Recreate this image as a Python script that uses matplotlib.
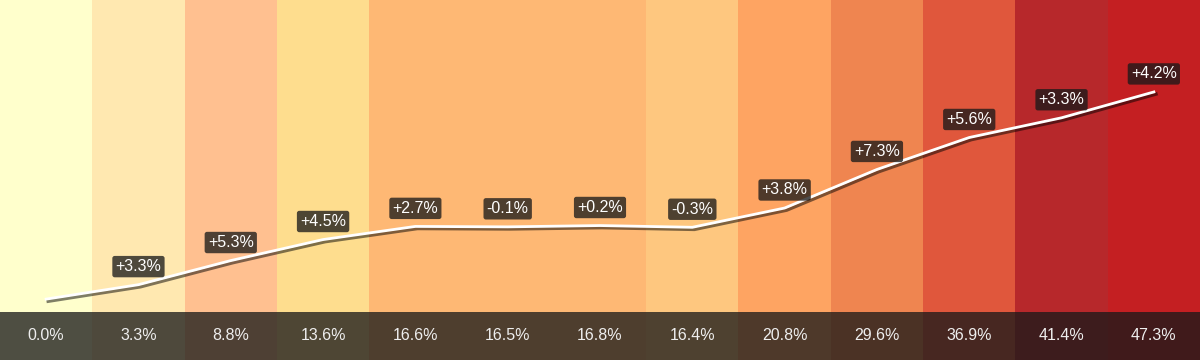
import matplotlib
matplotlib.use("Agg")
import matplotlib.pyplot as plt
import matplotlib.patheffects as pe
from matplotlib.patches import Rectangle

matplotlib.rcParams['font.family'] = ['Liberation Sans', 'DejaVu Sans']

# cumulative growth per period (%)
cumulative = [0.0, 3.3, 8.8, 13.6, 16.6, 16.5, 16.8, 16.4, 20.8, 29.6, 36.9, 41.4, 47.3]
# period-over-period change labels (%)
changes = [None, 3.3, 5.3, 4.5, 2.7, -0.1, 0.2, -0.3, 3.8, 7.3, 5.6, 3.3, 4.2]
col_colors = ["#ffffcc", "#ffe8b0", "#ffc090", "#fedd8e", "#feb874", "#feb874",
              "#feb874", "#fec77f", "#fea462", "#ef8550", "#e0573c", "#b7282b",
              "#c41f22"]

n = len(cumulative)
fig = plt.figure(figsize=(12, 3.6), dpi=100)
ax = fig.add_axes([0, 0, 1, 1])
ax.set_xlim(0, n)
ax.set_ylim(-13.9, 68.3)
ax.axis('off')

band_top = -13.9 + (48 / 360) * (68.3 + 13.9)

# column backgrounds
for i, c in enumerate(col_colors):
    ax.add_patch(Rectangle((i, -13.9), 1, 68.3 + 13.9, facecolor=c, edgecolor='none', zorder=0))

# dark bottom band
ax.add_patch(Rectangle((0, -13.9), n, band_top + 13.9, facecolor='#191919',
                       alpha=0.77, edgecolor='none', zorder=1))

xs = [i + 0.5 for i in range(n)]
ax.plot(xs, cumulative, color='white', linewidth=2, zorder=3,
        path_effects=[pe.SimpleLineShadow(offset=(1.5, -1.5), shadow_color='#000000', alpha=0.5,
                                          linewidth=2.5),
                      pe.Normal()])

for x, v, ch in zip(xs, cumulative, changes):
    ax.text(x, (-13.9 + band_top) / 2, f"{v:.1f}%", ha='center', va='center',
            color='#eeeeee', fontsize=11.5, zorder=4)
    if ch is not None:
        ax.annotate(f"{ch:+.1f}%", (x, v), xytext=(0, 13), textcoords='offset points',
                    ha='center', va='center', color='white', fontsize=11.5, zorder=5,
                    bbox=dict(boxstyle='round,pad=0.2,rounding_size=0.15',
                              facecolor='#191919', alpha=0.77, edgecolor='none'))

plt.savefig("out.png", dpi=100)
